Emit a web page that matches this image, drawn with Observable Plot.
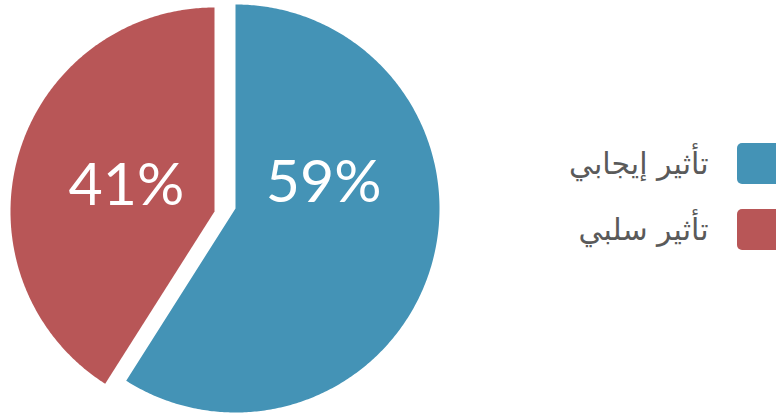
<!DOCTYPE html>
<html><head><meta charset="utf-8">
<script src="https://cdn.jsdelivr.net/npm/d3@7"></script>
<script src="https://cdn.jsdelivr.net/npm/@observablehq/plot@0.6"></script>
<style>html,body{margin:0;padding:0;background:#fff;overflow:hidden}</style>
</head><body><div id="chart"></div>
<script>
// Data
const categories = ["تأثير إيجابي", "تأثير سلبي"];
const shares = [59, 41];
const labels = ["59%", "41%"];
const colors = ["#4493b6", "#b85657"];

// Layout (pixels)
const W = 776, H = 418, R = 204, CX = 235, CY = 208;
const explode = [[0, 0], [-21, 3]];

const rows = categories.map((c, i) => ({name: c, share: shares[i], label: labels[i], i}));
const arcs = d3.pie().sort(null).value(d => d.share)(rows);

// slice polygons
const poly = [];
arcs.forEach((a, k) => {
  const [ox, oy] = explode[k];
  const cx = CX + ox, cy = CY + oy;
  poly.push({name: a.data.name, x: cx, y: cy});
  const n = Math.max(2, Math.ceil((a.endAngle - a.startAngle) / 0.01));
  for (let j = 0; j <= n; j++) {
    const t = a.startAngle + (a.endAngle - a.startAngle) * j / n;
    poly.push({name: a.data.name, x: cx + R * Math.sin(t), y: cy - R * Math.cos(t)});
  }
  poly.push({name: a.data.name, x: cx, y: cy});
});

// label positions
const lab = arcs.map((a, k) => {
  const mid = (a.startAngle + a.endAngle) / 2;
  const [ox, oy] = explode[k];
  return {label: a.data.label, x: CX + ox + Math.sin(mid) * R * 0.45, y: CY + oy - 25};
});

// legend
const LX = 737, LS = 41, LY0 = 143, LDY = 66;
const leg = rows.map((d, i) => ({name: d.name, x1: LX, x2: LX + LS + 4, y1: LY0 + i * LDY, y2: LY0 + i * LDY + LS, tx: LX - 29, ty: LY0 + i * LDY + LS / 2}));

const chart = Plot.plot({
  width: W, height: H, margin: 0,
  style: {background: "#fff"},
  x: {domain: [0, W], range: [0, W], axis: null},
  y: {domain: [0, H], range: [0, H], axis: null},
  color: {domain: categories, range: colors},
  marks: [
    Plot.line(poly, {x: "x", y: "y", z: "name", fill: "name", stroke: "none", curve: "linear"}),
    Plot.text(lab, {x: "x", y: "y", text: "label", fill: "#fff", fontSize: 59, fontWeight: 400, fontFamily: "Lato, 'Open Sans', sans-serif", textAnchor: "middle"}),
    Plot.rect(leg, {x1: "x1", x2: "x2", y1: "y1", y2: "y2", fill: "name", rx: 5}),
    Plot.text(leg, {x: "tx", y: "ty", text: "name", fill: "#5a5a5a", fontSize: 30, fontFamily: "'DejaVu Sans', sans-serif", textAnchor: "end"})
  ]
});
document.getElementById("chart").appendChild(chart);
</script>
</body></html>
